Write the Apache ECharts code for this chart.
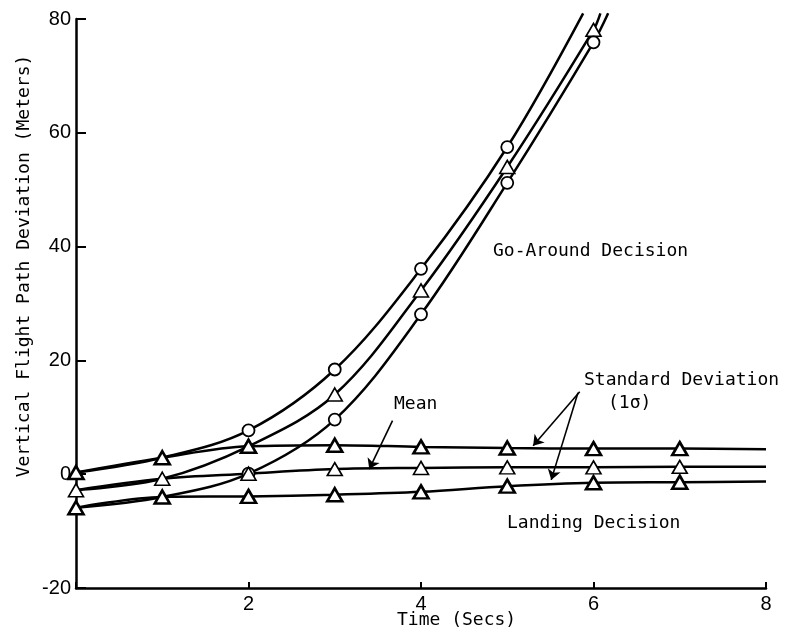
<!DOCTYPE html>
<html>
<head>
<meta charset="utf-8">
<title>Vertical Flight Path Deviation</title>
<script src="https://cdn.jsdelivr.net/npm/echarts@6/dist/echarts.min.js"></script>
<style>body{margin:0;background:#fff;}</style>
</head>
<body>
<div id="main" style="width:788px;height:638px;"></div>
<script type="text/javascript">
// landing decision: upper sigma, mean, lower sigma (triangles at 0..7, line runs on to 8)
var timeLanding  = [0, 1, 2, 3, 4, 5, 6, 7, 8];
var landingUpper = [0.3, 2.9, 4.9, 5.1, 4.8, 4.6, 4.5, 4.5, 4.4];
var landingMean  = [-2.8, -0.8, 0.1, 0.9, 1.1, 1.2, 1.2, 1.3, 1.3];
var landingLower = [-5.9, -4.0, -3.9, -3.6, -3.1, -2.1, -1.5, -1.4, -1.3];

// go-around decision: curves leave the top of the plot just after 6 s
var timeGoUpper = [0, 1, 2, 3, 4, 5, 5.88];
var goUpper     = [0.3, 2.9, 7.7, 18.4, 36.1, 57.5, 81];
var timeGoMean  = [0, 1, 2, 3, 4, 5, 6, 6.08];
var goMean      = [-2.8, -0.8, 4.9, 14.0, 32.3, 54.0, 78.1, 81];
var timeGoLower = [0, 1, 2, 3, 4, 5, 6, 6.17];
var goLower     = [-5.9, -4.0, 0.1, 9.6, 28.1, 51.2, 75.9, 81];

var xTicks = [2, 4, 6, 8];

// arrows [from, to] in data units
var arrowMean = [[3.67, 9.4], [3.40, 0.9]];
var arrowSd1  = [[5.84, 14.5], [5.30, 5.0]];
var arrowSd2  = [[5.82, 14.3], [5.51, -1.0]];

var mono = '"DejaVu Sans Mono", "Liberation Mono", monospace';
var sans = '"Liberation Sans", Arial, sans-serif';

function pts(xs, ys, from, to) {
    return xs.map(function (x, i) {
        var p = { value: [x, ys[i]] };
        if (i < from || i > to) p.symbol = 'none';
        return p;
    });
}

function curve(name, xs, ys, from, to, symbol, size, bw) {
    return {
        name: name,
        type: 'line',
        smooth: 0.35,
        clip: false,
        data: pts(xs, ys, from, to),
        symbol: symbol,
        symbolSize: size,
        lineStyle: { color: '#000', width: 2.5 },
        itemStyle: { color: '#fff', borderColor: '#000', borderWidth: bw },
        z: 3
    };
}

var myChart = echarts.init(document.getElementById('main'));

var landingMeanSeries = curve('Landing mean', timeLanding, landingMean, 0, 7, 'triangle', [15, 13], 1.6);
landingMeanSeries.markLine = {
    silent: true,
    symbol: ['none', 'arrow'],
    symbolSize: 10,
    label: { show: false },
    lineStyle: { color: '#000', width: 1.6, type: 'solid' },
    data: [
        [{ coord: arrowMean[0] }, { coord: arrowMean[1] }],
        [{ coord: arrowSd1[0] }, { coord: arrowSd1[1] }],
        [{ coord: arrowSd2[0] }, { coord: arrowSd2[1] }]
    ]
};

myChart.setOption({
    animation: false,
    backgroundColor: '#fff',
    grid: { left: 76, right: 22, top: 19, bottom: 50 },
    xAxis: {
        type: 'value',
        min: 0, max: 8, interval: 2,
        axisLine: { onZero: false, lineStyle: { color: '#000', width: 2.5 } },
        axisTick: { inside: true, length: 6, lineStyle: { color: '#000', width: 2 } },
        splitLine: { show: false },
        axisLabel: {
            color: '#000', fontSize: 20, fontFamily: sans, margin: 6,
            formatter: function (v) { return xTicks.indexOf(v) >= 0 ? String(v) : ''; }
        }
    },
    yAxis: {
        type: 'value',
        min: -20, max: 80, interval: 20,
        axisLine: { show: true, onZero: false, lineStyle: { color: '#000', width: 2.5 } },
        axisTick: { show: true, inside: true, length: 10, lineStyle: { color: '#000', width: 2 } },
        splitLine: { show: false },
        axisLabel: { color: '#000', fontSize: 20, fontFamily: sans, margin: 5 }
    },
    series: [
        curve('Go-around +1σ', timeGoUpper, goUpper, 2, 5, 'circle', 12, 1.8),
        curve('Go-around mean', timeGoMean, goMean, 2, 6, 'triangle', [15, 13], 1.6),
        curve('Go-around -1σ', timeGoLower, goLower, 2, 6, 'circle', 12, 1.8),
        curve('Landing +1σ', timeLanding, landingUpper, 0, 7, 'triangle', [15, 13], 2.6),
        landingMeanSeries,
        curve('Landing -1σ', timeLanding, landingLower, 0, 7, 'triangle', [15, 13], 2.6)
    ],
    graphic: [
        { type: 'text', left: 493, top: 242, style: { text: 'Go-Around Decision', font: '18px ' + mono, fill: '#000' } },
        { type: 'text', left: 394, top: 395, style: { text: 'Mean', font: '18px ' + mono, fill: '#000' } },
        { type: 'text', left: 584, top: 371, style: { text: 'Standard Deviation', font: '18px ' + mono, fill: '#000' } },
        { type: 'text', left: 608, top: 394, style: { text: '(1σ)', font: '18px ' + mono, fill: '#000' } },
        { type: 'text', left: 507, top: 514, style: { text: 'Landing Decision', font: '18px ' + mono, fill: '#000' } },
        { type: 'text', left: 397, top: 611, style: { text: 'Time (Secs)', font: '18px ' + mono, fill: '#000' } },
        {
            type: 'text', x: 24, y: 266, rotation: Math.PI / 2,
            style: {
                text: 'Vertical Flight Path Deviation (Meters)', font: '18px ' + mono, fill: '#000',
                textAlign: 'center', textVerticalAlign: 'middle'
            }
        }
    ]
});
</script>
</body>
</html>
